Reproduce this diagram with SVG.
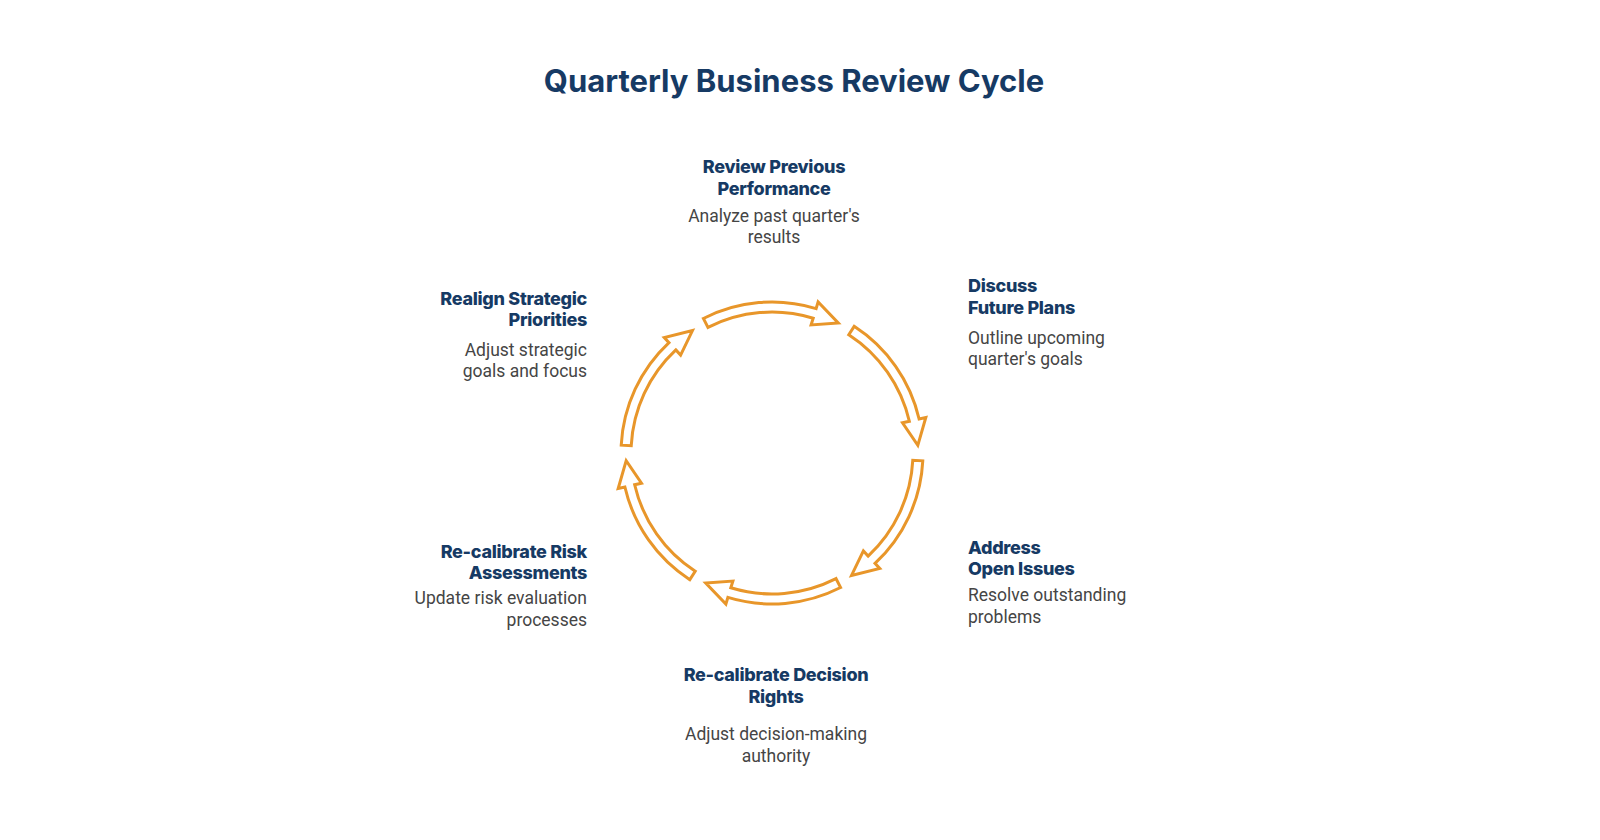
<svg xmlns="http://www.w3.org/2000/svg" width="1600" height="840" viewBox="0 0 1600 840">
<style>
.t{font-family:Inter,"Open Sans",sans-serif;font-weight:700;fill:#163a64}
.h{font-family:Inter,"Open Sans",sans-serif;font-weight:800;font-size:18px;fill:#163a64;letter-spacing:-0.3px}
.d{font-family:Roboto,"Noto Sans",sans-serif;font-size:17.5px;fill:#454545}
.a{fill:#fff;stroke:#E8962A;stroke-width:3;stroke-linejoin:miter}
</style>
<defs>
<path id="arr" d="M703.4,318.5 A151,151 0 0 1 816.1,308.6 L818.1,302 L838.3,322.9 L811.1,324.9 L813.2,318.2 A141,141 0 0 0 708,327.4 Z"/>
</defs>
<rect width="1600" height="840" fill="#fff"/>
<text class="t" x="794" y="92" font-size="31" text-anchor="middle">Quarterly Business Review Cycle</text>
<g id="connectors">
<use href="#arr" class="a"/>
<use href="#arr" class="a" transform="rotate(60 772 453)"/>
<use href="#arr" class="a" transform="rotate(120 772 453)"/>
<use href="#arr" class="a" transform="rotate(180 772 453)"/>
<use href="#arr" class="a" transform="rotate(240 772 453)"/>
<use href="#arr" class="a" transform="rotate(300 772 453)"/>
</g>
<g id="n1" text-anchor="middle">
<text class="h" x="774" y="173">Review Previous</text>
<text class="h" x="774" y="195">Performance</text>
<text class="d" x="774" y="222">Analyze past quarter's</text>
<text class="d" x="774" y="243">results</text>
</g>
<g id="n2">
<text class="h" x="968" y="292">Discuss</text>
<text class="h" x="968" y="314">Future Plans</text>
<text class="d" x="968" y="344">Outline upcoming</text>
<text class="d" x="968" y="365">quarter's goals</text>
</g>
<g id="n3">
<text class="h" x="968" y="554">Address</text>
<text class="h" x="968" y="575">Open Issues</text>
<text class="d" x="968" y="601">Resolve outstanding</text>
<text class="d" x="968" y="623">problems</text>
</g>
<g id="n4" text-anchor="middle">
<text class="h" x="776" y="681">Re-calibrate Decision</text>
<text class="h" x="776" y="703">Rights</text>
<text class="d" x="776" y="740">Adjust decision-making</text>
<text class="d" x="776" y="762">authority</text>
</g>
<g id="n5" text-anchor="end">
<text class="h" x="587" y="558">Re-calibrate Risk</text>
<text class="h" x="587" y="579">Assessments</text>
<text class="d" x="587" y="604">Update risk evaluation</text>
<text class="d" x="587" y="626">processes</text>
</g>
<g id="n6" text-anchor="end">
<text class="h" x="587" y="305">Realign Strategic</text>
<text class="h" x="587" y="326">Priorities</text>
<text class="d" x="587" y="356">Adjust strategic</text>
<text class="d" x="587" y="377">goals and focus</text>
</g>
</svg>
